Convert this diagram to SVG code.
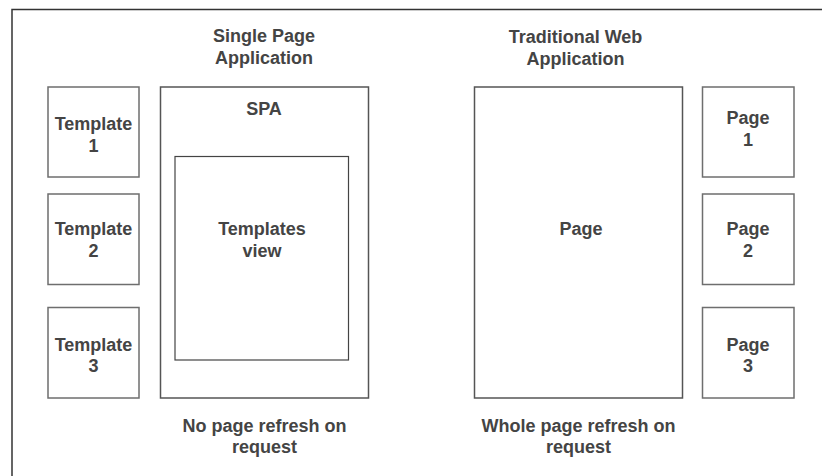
<svg xmlns="http://www.w3.org/2000/svg" width="822" height="476" viewBox="0 0 822 476">
<style>
.t{font-family:"Liberation Sans",Arial,sans-serif;font-weight:bold;font-size:18px;fill:#444;text-anchor:middle}
.frame{fill:none;stroke:#333;stroke-width:1.5}
.small{fill:#fff;stroke:#6e6e6e;stroke-width:1.5}
.big{fill:#fff;stroke:#555;stroke-width:1.5}
.inner{fill:#fff;stroke:#444;stroke-width:1.2}
</style>
<rect x="0" y="0" width="822" height="476" fill="#fff"/>
<rect class="frame" x="12" y="9.5" width="840" height="500"/>
<g id="title-spa">
<text class="t" x="264" y="41.5">Single Page</text>
<text class="t" x="264" y="63.5">Application</text>
</g>
<g id="title-twa">
<text class="t" x="575.5" y="43">Traditional Web</text>
<text class="t" x="575.5" y="65">Application</text>
</g>
<g id="template1">
<rect class="small" x="48" y="87" width="91" height="90"/>
<text class="t" x="93.5" y="130">Template</text>
<text class="t" x="93.5" y="151.5">1</text>
</g>
<g id="template2">
<rect class="small" x="48" y="194" width="91" height="90.5"/>
<text class="t" x="93.5" y="235">Template</text>
<text class="t" x="93.5" y="256.5">2</text>
</g>
<g id="template3">
<rect class="small" x="48" y="307.5" width="91" height="90.5"/>
<text class="t" x="93.5" y="350.5">Template</text>
<text class="t" x="93.5" y="372">3</text>
</g>
<g id="spa">
<rect class="big" x="160.5" y="87" width="208" height="311"/>
<text class="t" x="264" y="115">SPA</text>
</g>
<g id="templates-view">
<rect class="inner" x="175" y="156.5" width="173.5" height="203.5"/>
<text class="t" x="262" y="235">Templates</text>
<text class="t" x="262" y="256.5">view</text>
</g>
<g id="page">
<rect class="big" x="474.5" y="87" width="208" height="311"/>
<text class="t" x="581" y="235">Page</text>
</g>
<g id="page1">
<rect class="small" x="702.5" y="87" width="91.5" height="90"/>
<text class="t" x="748" y="124">Page</text>
<text class="t" x="748" y="145.5">1</text>
</g>
<g id="page2">
<rect class="small" x="702.5" y="194" width="91.5" height="90.5"/>
<text class="t" x="748" y="235">Page</text>
<text class="t" x="748" y="256.5">2</text>
</g>
<g id="page3">
<rect class="small" x="702.5" y="307.5" width="91.5" height="90.5"/>
<text class="t" x="748" y="350.5">Page</text>
<text class="t" x="748" y="372">3</text>
</g>
<g id="caption-spa">
<text class="t" x="264.5" y="431.5">No page refresh on</text>
<text class="t" x="264.5" y="453">request</text>
</g>
<g id="caption-twa">
<text class="t" x="578.5" y="431.5">Whole page refresh on</text>
<text class="t" x="578.5" y="453">request</text>
</g>
<g id="connectors"></g>
</svg>
